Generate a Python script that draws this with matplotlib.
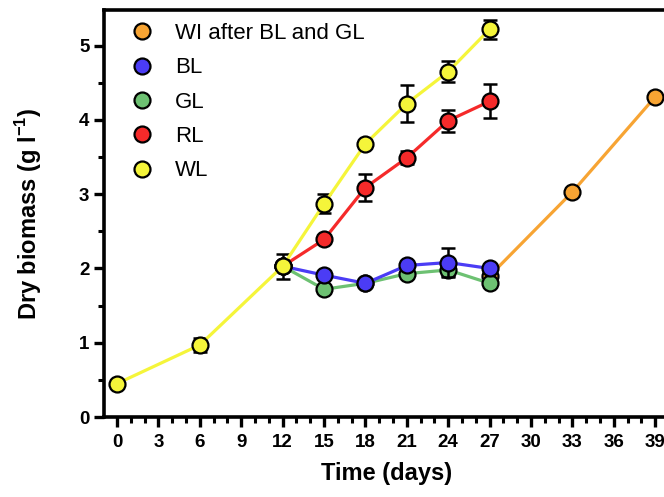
import matplotlib
matplotlib.use("Agg")
import matplotlib.pyplot as plt
from matplotlib.ticker import MultipleLocator
from matplotlib.lines import Line2D

plt.rcParams['font.family'] = ['Liberation Sans', 'DejaVu Sans']
plt.rcParams['mathtext.fontset'] = 'custom'
plt.rcParams['mathtext.bf'] = 'Liberation Sans:bold'
plt.rcParams['mathtext.rm'] = 'Liberation Sans'

# Data
wl_days = [0, 6, 12, 15, 18, 21, 24, 27]
wl_vals = [0.45, 0.97, 2.03, 2.87, 3.68, 4.22, 4.65, 5.22]
wl_err = [0.0, 0.10, 0.17, 0.13, 0.04, 0.25, 0.14, 0.13]

rl_days = [12, 15, 18, 21, 24, 27]
rl_vals = [2.03, 2.39, 3.09, 3.49, 3.99, 4.25]
rl_err = [0.0, 0.04, 0.18, 0.09, 0.15, 0.23]

bl_days = [12, 15, 18, 21, 24, 27]
bl_vals = [2.03, 1.91, 1.80, 2.04, 2.08, 2.00]
bl_err = [0.0, 0.03, 0.03, 0.04, 0.20, 0.03]

gl_days = [12, 15, 18, 21, 24, 27]
gl_vals = [2.03, 1.72, 1.80, 1.93, 1.98, 1.80]
gl_err = [0.0, 0.03, 0.05, 0.03, 0.08, 0.04]

wi_days = [27, 33, 39]
wi_vals = [1.90, 3.03, 4.31]

x_ticks = list(range(0, 40, 3))
y_ticks = [0, 1, 2, 3, 4, 5]
legend_order = ['WI after BL and GL', 'BL', 'GL', 'RL', 'WL']

fig = plt.figure(figsize=(6.64, 4.97), dpi=100)
ax = fig.add_axes([104/664, 80/497, (669-104)/664, (417-10)/497])

lw = 2.3
ms = 11.5
mew = 1.6
cap = 5
elw = 1.8

def series(x, y, err, color, label, z):
    if err is not None:
        ax.errorbar(x, y, yerr=err, fmt='none', ecolor='black', elinewidth=elw,
                    capsize=cap, capthick=elw, zorder=z)
    ax.plot(x, y, '-', color=color, lw=lw, marker='o', ms=ms, mfc=color,
            mec='black', mew=mew, label=label, zorder=z + 0.5)

series(wi_days, wi_vals, None, '#F7A433', 'WI after BL and GL', 2)
series(gl_days, gl_vals, gl_err, '#6DC172', 'GL', 3)
series(bl_days, bl_vals, bl_err, '#4B3CF5', 'BL', 4)
series(rl_days, rl_vals, rl_err, '#F52A2A', 'RL', 5)
series(wl_days, wl_vals, wl_err, '#F5F53A', 'WL', 6)

ax.set_xlim(-0.95, 40.0)
ax.set_ylim(0, 5.48)
ax.set_xticks(x_ticks)
ax.set_yticks(y_ticks)
ax.xaxis.set_minor_locator(MultipleLocator(1))
ax.yaxis.set_minor_locator(MultipleLocator(0.5))

for s in ['left', 'top', 'bottom']:
    ax.spines[s].set_linewidth(2.6)
ax.spines['right'].set_visible(False)

ax.tick_params(axis='both', which='major', length=7.5, width=2.4, labelsize=13.5, pad=3)
ax.tick_params(axis='both', which='minor', length=4.5, width=2.2)
ax.tick_params(axis='x', which='major', pad=5)
for lab in ax.get_xticklabels() + ax.get_yticklabels():
    lab.set_fontweight('bold')

ax.set_xlabel('Time (days)', fontsize=17, fontweight='bold', labelpad=8)
ax.set_ylabel(r'Dry biomass (g l$^{\mathbf{-1}}$)', fontsize=17, fontweight='bold', labelpad=25)

handles, labels = ax.get_legend_handles_labels()
hmap = dict(zip(labels, handles))
hs = []
for name in legend_order:
    h = hmap[name]
    hs.append(Line2D([], [], ls='none', marker='o', ms=ms, mfc=h.get_mfc(), mec='black', mew=mew))
leg = ax.legend(hs, legend_order, loc='upper left', bbox_to_anchor=(0.0, 1.006), frameon=False,
                fontsize=16, handletextpad=0.5, labelspacing=0.6, borderaxespad=0.3,
                handlelength=2.0)

fig.savefig('out.png', dpi=100)
